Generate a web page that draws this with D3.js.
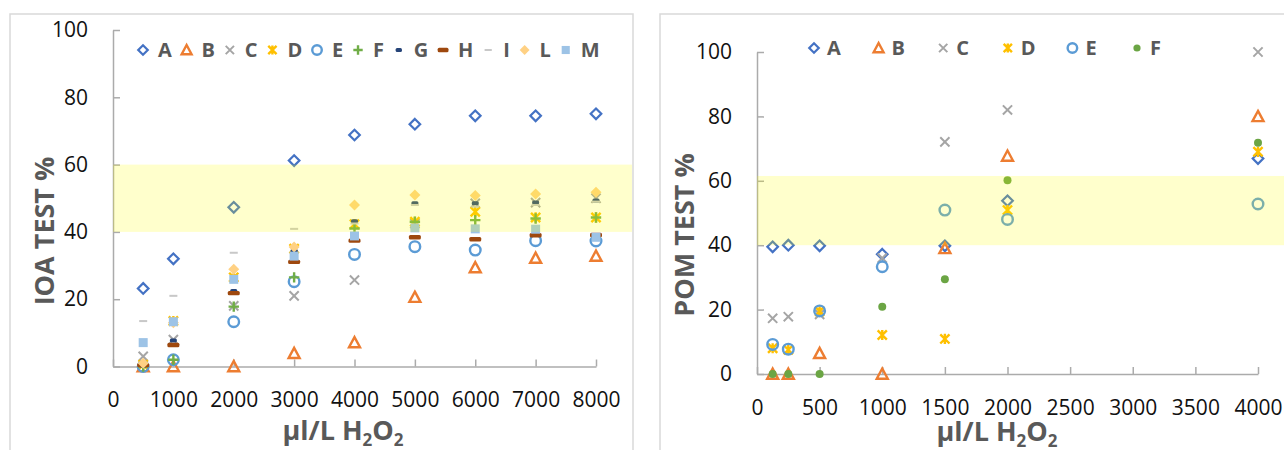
<!DOCTYPE html>
<html>
<head>
<meta charset="utf-8">
<script src="https://cdn.jsdelivr.net/npm/d3@7"></script>
<style>
  html, body { margin: 0; padding: 0; background: #fff; }
  svg { display: block; }
  .tick text { font-family: "Open Sans", sans-serif; font-size: 21px; fill: #111; }
  .axis path.domain, .axis line { stroke: #ababab; stroke-width: 1.5px; }
</style>
</head>
<body>
<svg id="chart" width="1284" height="450"></svg>
<script>
// IOA test: dose (µl/L H2O2) and response (%) per series
const ioaDose = [500, 1000, 2000, 3000, 4000, 5000, 6000, 7000, 8000];
const ioaA = [23.2, 32, 47.3, 61.2, 68.8, 72, 74.5, 74.5, 75.1];
const ioaB = [0, 0, 0, 3.9, 7.1, 20.6, 29.4, 32.2, 32.8];
const ioaC = [3, 8, 18, 21, 25.7, 42.5, 48.5, 48.7, 50];
const ioaD = [0.5, 13.5, 26.5, 35, 42.3, 43, 46, 44.3, 44.3];
const ioaE = [0, 2, 13.3, 25.2, 33.3, 35.6, 34.6, 37.4, 37.3];
const ioaF = [0, 2, 17.8, 26.5, 41, 43, 43.5, 44, 44.3];
const ioaG = [0.3, 7.7, 22.4, 34.4, 43.2, 48.5, 48.5, 48.7, 49.3];
const ioaH = [0.4, 6.4, 21.8, 31.1, 37.4, 38.4, 37.8, 39, 39.1];
const ioaI = [13.5, 21, 33.8, 40.9, 42.5, 48, 47.5, 48, 49];
const ioaL = [1, 13, 28.9, 35.5, 48, 51, 50.8, 51.3, 51.8];
const ioaM = [7.1, 13.3, 25.9, 32.8, 38.8, 41.2, 40.9, 40.8, 38.4];
const ioaNames = ["A", "B", "C", "D", "E", "F", "G", "H", "I", "L", "M"];
const ioaBand = [40, 60];

// POM test
const pomDose = [125, 250, 500, 1000, 1500, 2000, 4000];
const pomA = [39.5, 40, 39.8, 37.2, 39.8, 53.8, 66.9];
const pomB = [0, 0, 6.4, 0, 39, 67.7, 80];
const pomC = [17.3, 17.8, 18.5, 36, 72.1, 82, 100];
const pomD = [8, 7.5, 19.5, 12.1, 10.9, 50.9, 69];
const pomE = [9.2, 7.7, 19.6, 33.3, 50.9, 48, 52.8];
const pomF = [0, 0, 0, 20.9, 29.4, 60.2, 71.8];
const pomNames = ["A", "B", "C", "D", "E", "F"];
const pomBand = [40, 61.5];

const yTicks = [0, 20, 40, 60, 80, 100];
const ioaXTicks = [0, 1000, 2000, 3000, 4000, 5000, 6000, 7000, 8000];
const pomXTicks = [0, 500, 1000, 1500, 2000, 2500, 3000, 3500, 4000];

// marker styles per series
const ioaStyle = {
  A: { shape: "diamond", color: "#4472C4" },
  B: { shape: "triangle", color: "#ED7D31" },
  C: { shape: "x", color: "#A5A5A5" },
  D: { shape: "star", color: "#FFC000" },
  E: { shape: "circle", color: "#5B9BD5" },
  F: { shape: "plus", color: "#70AD47" },
  G: { shape: "dashS", color: "#264478" },
  H: { shape: "dashL", color: "#9E480E" },
  I: { shape: "dashT", color: "#C8C8C8" },
  L: { shape: "diamondFill", color: "#FFD184" },
  M: { shape: "square", color: "#9DC3E6" }
};
const pomStyle = {
  A: ioaStyle.A, B: ioaStyle.B, C: ioaStyle.C, D: ioaStyle.D, E: ioaStyle.E,
  F: { shape: "dot", color: "#6BA544" }
};

function drawMarker(g, shape, color, k) {
  k = k || 1;
  switch (shape) {
    case "diamond": {
      const r = 5.3 * k;
      g.append("path").attr("d", `M0,${-r}L${r},0L0,${r}L${-r},0Z`)
        .attr("fill", "none").attr("stroke", color).attr("stroke-width", 2.2);
      break;
    }
    case "diamondFill": {
      const r = 5.5 * k;
      g.append("path").attr("d", `M0,${-r}L${r},0L0,${r}L${-r},0Z`).attr("fill", color);
      break;
    }
    case "triangle": {
      const r = 5.5 * k;
      g.append("path").attr("d", `M0,${-r}L${r},${r * 0.85}L${-r},${r * 0.85}Z`)
        .attr("fill", "none").attr("stroke", color).attr("stroke-width", 2.4)
        .attr("stroke-linejoin", "miter");
      break;
    }
    case "x": {
      const r = 4.6 * k;
      g.append("path").attr("d", `M${-r},${-r}L${r},${r}M${-r},${r}L${r},${-r}`)
        .attr("stroke", color).attr("stroke-width", 2);
      break;
    }
    case "star": {
      const r = 4.6 * k;
      g.append("path").attr("d", `M${-r},${-r}L${r},${r}M${-r},${r}L${r},${-r}M0,${-r * 1.1}L0,${r * 1.1}`)
        .attr("stroke", color).attr("stroke-width", 2.4);
      break;
    }
    case "circle":
      g.append("circle").attr("r", 5.3 * k).attr("fill", "none")
        .attr("stroke", color).attr("stroke-width", 2.4);
      break;
    case "plus": {
      const r = 5.2 * k;
      g.append("path").attr("d", `M${-r},0L${r},0M0,${-r}L0,${r}`)
        .attr("stroke", color).attr("stroke-width", 2.4);
      break;
    }
    case "dashS":
      g.append("rect").attr("x", -3.5 * k).attr("y", -2).attr("width", 7 * k).attr("height", 4)
        .attr("rx", 1.5).attr("fill", color);
      break;
    case "dashL":
      g.append("rect").attr("x", -6 * k).attr("y", -2.2).attr("width", 12 * k).attr("height", 4.4)
        .attr("rx", 1.5).attr("fill", color);
      break;
    case "dashT":
      g.append("rect").attr("x", -4 * k).attr("y", -1).attr("width", 8 * k).attr("height", 2)
        .attr("fill", color);
      break;
    case "square":
      g.append("rect").attr("x", -4.5 * k).attr("y", -4.5 * k).attr("width", 9 * k).attr("height", 9 * k)
        .attr("fill", color);
      break;
    case "dot":
      g.append("circle").attr("r", 4 * k).attr("fill", color);
      break;
  }
}

const svg = d3.select("#chart");

function xTitle(g, cx, y) {
  const t = g.append("text").attr("x", cx).attr("y", y).attr("text-anchor", "middle")
    .attr("font-family", "Open Sans, sans-serif").attr("font-weight", "bold")
    .attr("font-size", 27).attr("fill", "#595959");
  t.append("tspan").text("µl/L H");
  t.append("tspan").attr("font-size", 17).attr("dy", 6).text("2");
  t.append("tspan").attr("dy", -6).text("O");
  t.append("tspan").attr("font-size", 17).attr("dy", 6).text("2");
}

function panel(cfg) {
  const g = svg.append("g");
  // chart frame
  g.append("rect").attr("x", cfg.frame[0]).attr("y", cfg.frame[1])
    .attr("width", cfg.frame[2]).attr("height", cfg.frame[3])
    .attr("fill", "#fff").attr("stroke", "#d9d9d9").attr("stroke-width", 1.5);

  const x = d3.scaleLinear().domain(cfg.xDomain).range(cfg.xRange);
  const y = d3.scaleLinear().domain([0, 100]).range(cfg.yRange);

  g.append("g").attr("class", "axis")
    .attr("transform", `translate(0,${cfg.yRange[0]})`)
    .call(d3.axisBottom(x).tickValues(cfg.xTicks).tickFormat(d3.format("d"))
      .tickSizeInner(-7).tickSizeOuter(0).tickPadding(26));
  g.append("g").attr("class", "axis")
    .attr("transform", `translate(${cfg.xRange[0]},0)`)
    .call(d3.axisLeft(y).tickValues(yTicks).tickFormat(d3.format("d"))
      .tickSizeInner(-7).tickSizeOuter(0).tickPadding(25));

  // series markers, drawn in series order
  cfg.names.forEach((name, i) => {
    const st = cfg.style[name];
    const vals = cfg.values[i];
    const s = g.append("g");
    cfg.dose.forEach((d, j) => {
      const m = s.append("g").attr("transform", `translate(${x(d)},${y(vals[j])})`);
      drawMarker(m, st.shape, st.color);
    });
  });

  // target range band
  g.append("rect").attr("x", cfg.xRange[0]).attr("width", cfg.bandRight - cfg.xRange[0])
    .attr("y", y(cfg.band[1])).attr("height", y(cfg.band[0]) - y(cfg.band[1]))
    .attr("fill", "#ffff00").attr("fill-opacity", 0.2);

  // legend
  let lx = cfg.legendX;
  cfg.names.forEach(name => {
    const st = cfg.style[name];
    const m = g.append("g").attr("transform", `translate(${lx},${cfg.legendY})`);
    drawMarker(m, st.shape, st.color, 0.9);
    const t = g.append("text").attr("x", lx + cfg.legendTextOff).attr("y", cfg.legendY)
      .attr("dy", "0.36em").attr("font-family", "Open Sans, sans-serif")
      .attr("font-weight", "bold").attr("font-size", 20).attr("fill", "#595959").text(name);
    if (cfg.legendStep) lx += cfg.legendStep;
    else lx += cfg.legendTextOff + t.node().getComputedTextLength() + cfg.legendGap;
  });

  // axis titles
  g.append("text").attr("transform", `translate(${cfg.yTitle[0]},${cfg.yTitle[1]}) rotate(-90)`)
    .attr("text-anchor", "middle").attr("dy", "0.35em")
    .attr("font-family", "Open Sans, sans-serif").attr("font-weight", "bold")
    .attr("font-size", 27).attr("fill", "#595959").text(cfg.yLabel);
  xTitle(g, cfg.xTitle[0], cfg.xTitle[1]);
}

panel({
  frame: [10, 14, 623, 460],
  xDomain: [0, 8000], xRange: [113, 596], yRange: [366.5, 30],
  xTicks: ioaXTicks, dose: ioaDose, names: ioaNames, style: ioaStyle,
  values: [ioaA, ioaB, ioaC, ioaD, ioaE, ioaF, ioaG, ioaH, ioaI, ioaL, ioaM],
  band: ioaBand, bandRight: 632,
  legendX: 143, legendY: 50, legendTextOff: 15, legendGap: 14.8,
  yLabel: "IOA TEST %", yTitle: [45, 231], xTitle: [343, 440]
});

panel({
  frame: [660, 14, 640, 460],
  xDomain: [0, 4000], xRange: [757, 1258], yRange: [374, 52],
  xTicks: pomXTicks, dose: pomDose, names: pomNames, style: pomStyle,
  values: [pomA, pomB, pomC, pomD, pomE, pomF],
  band: pomBand, bandRight: 1284,
  legendX: 814, legendY: 48, legendTextOff: 13, legendStep: 64.6,
  yLabel: "POM TEST %", yTitle: [685, 235], xTitle: [997, 441]
});
</script>
</body>
</html>
